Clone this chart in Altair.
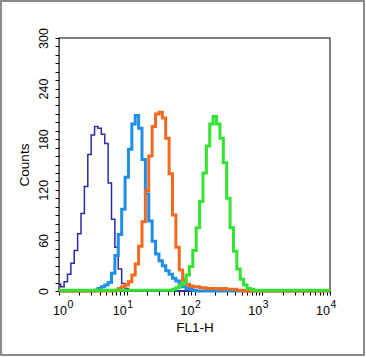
import altair as alt
import pandas as pd

# histogram bins (log10 of FL1-H channel value)
LOG_BINS = [0.00, 0.05, 0.10, 0.15, 0.20, 0.25, 0.30, 0.35, 0.40, 0.45,
            0.50, 0.55, 0.60, 0.65, 0.70, 0.75, 0.80, 0.85, 0.90, 0.95,
            1.00, 1.05, 1.10, 1.15, 1.20, 1.25, 1.30, 1.35, 1.40, 1.45,
            1.50, 1.55, 1.60, 1.65, 1.70, 1.75, 1.80, 1.85, 1.90, 1.95,
            2.00, 2.05, 2.10, 2.15, 2.20, 2.25, 2.30, 2.35, 2.40, 2.45,
            2.50, 2.55, 2.60, 2.65, 2.70, 2.75, 2.80, 2.85, 2.90, 2.95,
            3.00, 3.05, 3.10, 3.15, 3.20, 3.25, 3.30, 3.35, 3.40, 3.45,
            3.50, 3.55, 3.60, 3.65, 3.70, 3.75, 3.80, 3.85, 3.90, 3.95,
            4.00]

NAVY = [8, 5, 11, 20, 33, 48, 68, 92, 124, 162,
        185, 195, 193, 186, 175, 128, 85, 52, 26, 9,
        3, 1, 0, 0, 0, 0, 0, 0, 0, 0,
        0, 0, 0, 0, 0, 0, 0, 0, 0, 0,
        0, 0, 0, 0, 0, 0, 0, 0, 0, 0,
        0, 0, 0, 0, 0, 0, 0, 0, 0, 0,
        0, 0, 0, 0, 0, 0, 0, 0, 0, 0,
        0, 0, 0, 0, 0, 0, 0, 0, 0, 0,
        0]

LIGHT_BLUE = [0, 0, 0, 0, 0, 0, 0, 0, 0, 0,
              0, 1, 3, 5, 7, 10, 21, 42, 67, 97,
              135, 168, 198, 208, 193, 156, 115, 83, 59, 44,
              36, 30, 24, 20, 15, 12, 8, 5, 3, 2,
              1, 0, 0, 0, 0, 0, 0, 0, 0, 0,
              0, 0, 0, 0, 0, 0, 0, 0, 0, 0,
              0, 0, 0, 0, 0, 0, 0, 0, 0, 0,
              0, 0, 0, 0, 0, 0, 0, 0, 0, 0,
              0]

ORANGE = [0, 0, 0, 0, 0, 0, 0, 0, 0, 0,
          0, 0, 0, 0, 0, 0, 0, 1, 3, 5,
          7, 11, 19, 32, 53, 82, 119, 160, 195, 210,
          212, 205, 181, 139, 90, 52, 25, 13, 8, 6,
          5, 5, 4, 4, 3, 3, 3, 3, 2, 3,
          2, 2, 2, 1, 1, 0, 0, 0, 0, 0,
          0, 0, 0, 0, 0, 0, 0, 0, 0, 0,
          0, 0, 0, 0, 0, 0, 0, 0, 0, 0,
          0]

GREEN = [1, 1, 1, 1, 1, 1, 1, 1, 1, 1,
         1, 1, 1, 1, 1, 1, 1, 1, 1, 1,
         1, 1, 1, 1, 1, 1, 1, 1, 1, 1,
         1, 1, 1, 1, 2, 4, 7, 10, 19, 29,
         48, 75, 106, 140, 172, 198, 207, 198, 181, 152,
         110, 75, 47, 26, 14, 7, 3, 2, 1, 1,
         1, 1, 1, 1, 1, 1, 1, 1, 1, 1,
         1, 1, 1, 1, 1, 1, 1, 1, 1, 1,
         1]

SERIES = ["navy", "lightblue", "orange", "green"]
COLORS = ["#2c2aa6", "#1f8fe6", "#f26a1f", "#30e430"]
WIDTHS = [1.5, 3, 3, 3]
VALUES = [NAVY, LIGHT_BLUE, ORANGE, GREEN]

X_TICKS = [1, 2, 3, 4, 5, 6, 7, 8, 9,
           10, 20, 30, 40, 50, 60, 70, 80, 90,
           100, 200, 300, 400, 500, 600, 700, 800, 900,
           1000, 2000, 3000, 4000, 5000, 6000, 7000, 8000, 9000,
           10000]
DECADES = [1, 10, 100, 1000, 10000]
EXPONENTS = ["0", "1", "2", "3", "4"]
Y_TICKS = [0, 10, 20, 30, 40, 50, 60, 70, 80, 90, 100, 110, 120, 130, 140,
           150, 160, 170, 180, 190, 200, 210, 220, 230, 240, 250, 260, 270,
           280, 290, 300]

W, H = 271, 253
FONT = "Liberation Sans"

rows = []
for name, vals in zip(SERIES, VALUES):
    for e, v in zip(LOG_BINS, vals):
        rows.append({"series": name, "x": 10 ** e, "y": v})
df = pd.DataFrame(rows)

xscale = alt.Scale(type="log", domain=[1, 10000])
yscale = alt.Scale(domain=[0, 300])

xaxis = alt.Axis(values=X_TICKS, labels=False, tickSize=4, grid=False,
                 title="FL1-H", titleFont=FONT, titleFontSize=13.5,
                 titleFontWeight="normal", titlePadding=25, titleColor="black",
                 domainColor="#555555", tickColor="black")
yaxis = alt.Axis(values=Y_TICKS, labelExpr="datum.value % 60 == 0 ? datum.label : ''",
                 labelAngle=270, labelAlign="center", labelBaseline="alphabetic",
                 labelPadding=8, labelFont=FONT, labelFontSize=12.5,
                 labelColor="black", labelOverlap=False, tickSize=4, grid=False,
                 title="Counts", titleFont=FONT, titleFontSize=13.5,
                 titleFontWeight="normal", titlePadding=6, titleColor="black",
                 domainColor="#555555", tickColor="black")

layers = []
for name, color, sw in zip(SERIES, COLORS, WIDTHS):
    layers.append(
        alt.Chart(df).transform_filter(alt.datum.series == name)
        .mark_line(interpolate="step", color=color, strokeWidth=sw)
        .encode(x=alt.X("x:Q", scale=xscale, axis=xaxis),
                y=alt.Y("y:Q", scale=yscale, axis=yaxis))
    )

lab_df = pd.DataFrame({"d": DECADES, "e": EXPONENTS})


def decade_labels(sel, shift):
    base = alt.Chart(lab_df).transform_filter(sel).mark_text(
        align="right", baseline="alphabetic", font=FONT, fontSize=12.5,
        color="black", dx=shift
    ).encode(x=alt.X("d:Q", scale=xscale, axis=xaxis), y=alt.value(H + 24),
             text=alt.value("10"))
    exp = alt.Chart(lab_df).transform_filter(sel).mark_text(
        align="left", baseline="alphabetic", font=FONT, fontSize=10.5,
        color="black", dx=shift + 0.5
    ).encode(x=alt.X("d:Q", scale=xscale, axis=xaxis), y=alt.value(H + 17),
             text="e:N")
    return [base, exp]


label_layers = decade_labels("datum.d == 1", 8) + decade_labels("datum.d != 1", 0)

border = alt.Chart(pd.DataFrame({"a": [0]})).mark_rect(
    fill=None, stroke="#8c8c8c", strokeWidth=2
).encode(
    x=alt.value(-58), x2=alt.value(305), y=alt.value(-37), y2=alt.value(317)
)

chart = alt.layer(*layers, *label_layers, border).properties(
    width=W, height=H,
    autosize=alt.AutoSizeParams(type="none"),
    padding={"left": 59, "top": 38, "right": 36, "bottom": 66},
    background="white",
).configure_view(stroke="#555555", strokeWidth=1.5)

chart.save("out.html", embed_options={"renderer": "svg", "actions": False})
